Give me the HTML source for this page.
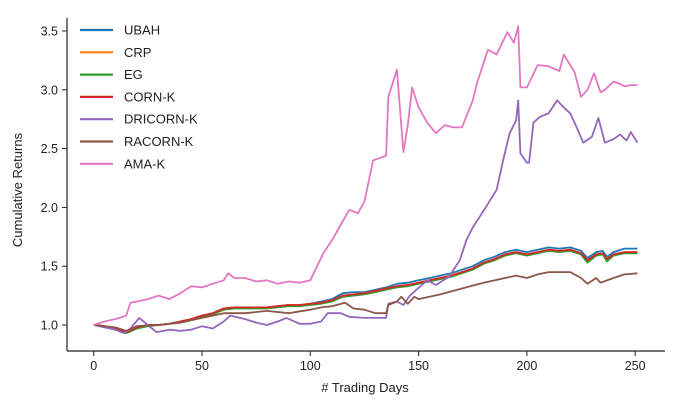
<!DOCTYPE html>
<html><head><meta charset="utf-8"><style>
body{margin:0;background:#fff}
svg{display:block;font-family:"Liberation Sans","DejaVu Sans",sans-serif}
</style></head><body>
<svg id="chart" width="676" height="408">
<g id="axes"></g>
<g id="series"></g>
<g id="legend"></g>
<text x="365" y="392" text-anchor="middle" font-size="13" fill="#222"># Trading Days</text>
<text transform="translate(22,190) rotate(-90)" text-anchor="middle" font-size="13" fill="#222">Cumulative Returns</text>
</svg>
<script>
const xTicks=[0,50,100,150,200,250];
const yTicks=[1.0,1.5,2.0,2.5,3.0,3.5];
const yTickLabels=["1.0","1.5","2.0","2.5","3.0","3.5"];
const seriesNames=["UBAH","CRP","EG","CORN-K","DRICORN-K","RACORN-K","AMA-K"];
const seriesColors=["#1f77b4","#ff7f0e","#2ca02c","#d62728","#9467bd","#8c564b","#e377c2"];
const baseDays=[0,5,10,15,20,25,30,35,40,45,50,55,60,65,70,75,80,85,90,95,100,105,110,115,120,125,130,135,140,145,150,155,160,165,170,175,180,185,190,195,200,205,210,215,220,225,228,232,235,237,240,245,251];
const ubahVals=[1.0,0.99,0.97,0.94,0.98,1.0,1.0,1.01,1.03,1.05,1.08,1.1,1.14,1.15,1.15,1.15,1.15,1.16,1.17,1.17,1.18,1.2,1.22,1.27,1.28,1.28,1.3,1.32,1.35,1.36,1.38,1.4,1.42,1.44,1.47,1.5,1.55,1.58,1.62,1.64,1.62,1.64,1.66,1.65,1.66,1.63,1.57,1.62,1.63,1.58,1.62,1.65,1.65];
const crpVals=[1.0,0.99,0.97,0.94,0.98,1.0,1.0,1.01,1.03,1.05,1.08,1.1,1.14,1.15,1.15,1.15,1.15,1.16,1.17,1.17,1.18,1.19,1.21,1.25,1.26,1.27,1.29,1.31,1.33,1.34,1.36,1.38,1.40,1.42,1.45,1.48,1.53,1.56,1.6,1.62,1.6,1.62,1.64,1.63,1.64,1.61,1.55,1.6,1.61,1.56,1.6,1.62,1.62];
const egVals=[1.0,0.99,0.97,0.93,0.97,0.99,1.0,1.01,1.02,1.04,1.07,1.09,1.13,1.14,1.14,1.14,1.14,1.15,1.16,1.16,1.17,1.18,1.2,1.24,1.25,1.26,1.28,1.3,1.32,1.33,1.35,1.37,1.39,1.41,1.44,1.47,1.52,1.55,1.59,1.61,1.59,1.61,1.63,1.62,1.63,1.6,1.53,1.59,1.6,1.54,1.59,1.61,1.61];
const cornVals=[1.0,0.99,0.97,0.94,0.98,1.0,1.0,1.01,1.03,1.05,1.08,1.1,1.14,1.15,1.15,1.15,1.15,1.16,1.17,1.17,1.18,1.19,1.21,1.25,1.26,1.27,1.29,1.31,1.33,1.34,1.36,1.38,1.40,1.42,1.45,1.48,1.53,1.56,1.6,1.62,1.6,1.62,1.64,1.63,1.64,1.61,1.55,1.6,1.61,1.56,1.6,1.62,1.62];
const racornDays=[0,5,10,15,20,30,40,50,60,70,80,90,100,105,110,116,120,125,130,135,136,140,142,145,148,150,160,170,180,190,195,200,205,210,220,225,228,232,234,240,245,251];
const racornVals=[1.0,0.99,0.98,0.95,0.99,1.0,1.02,1.06,1.1,1.1,1.12,1.1,1.13,1.15,1.16,1.19,1.14,1.13,1.1,1.1,1.17,1.2,1.24,1.18,1.24,1.22,1.26,1.31,1.36,1.4,1.42,1.4,1.43,1.45,1.45,1.4,1.35,1.4,1.36,1.4,1.43,1.44];
const dricornDays=[0,5,10,14,17,21,25,29,35,40,45,50,55,60,63,70,75,80,85,89,95,100,105,108,114,118,125,130,135,136,140,143,146,149,154,158,164,169,172,175,181,186,189,192,195,196,197,200,201,203,206,210,214,217,220,223,226,230,233,236,240,243,246,248,251];
const dricornVals=[1.0,0.98,0.96,0.93,0.97,1.06,1.0,0.94,0.96,0.95,0.96,0.99,0.97,1.03,1.08,1.05,1.02,1.0,1.03,1.06,1.01,1.01,1.03,1.1,1.1,1.07,1.06,1.06,1.06,1.18,1.2,1.17,1.25,1.3,1.38,1.34,1.41,1.55,1.72,1.83,2.0,2.15,2.4,2.63,2.74,2.91,2.46,2.38,2.38,2.72,2.77,2.8,2.91,2.85,2.8,2.68,2.55,2.6,2.76,2.55,2.58,2.62,2.57,2.64,2.55];
const amaDays=[0,5,10,15,17,20,25,30,35,40,45,50,55,60,62,65,70,75,80,85,90,95,100,106,110,114,118,122,125,129,135,136,140,143,145,147,150,154,158,162,166,170,175,177,182,186,191,194,196,197,200,205,210,215,217,222,225,228,231,234,236,240,243,245,248,251];
const amaVals=[1.0,1.03,1.05,1.08,1.19,1.2,1.22,1.25,1.22,1.27,1.33,1.32,1.35,1.38,1.44,1.40,1.40,1.37,1.38,1.35,1.37,1.36,1.38,1.61,1.72,1.85,1.98,1.95,2.05,2.4,2.44,2.94,3.17,2.47,2.7,3.02,2.85,2.72,2.63,2.7,2.68,2.68,2.91,3.06,3.34,3.3,3.49,3.4,3.54,3.02,3.02,3.21,3.2,3.16,3.3,3.15,2.94,3.0,3.14,2.98,3.0,3.07,3.05,3.03,3.04,3.04];
const seriesDays=[baseDays,baseDays,baseDays,baseDays,dricornDays,racornDays,amaDays];
const seriesVals=[ubahVals,crpVals,egVals,cornVals,dricornVals,racornVals,amaVals];

const NS="http://www.w3.org/2000/svg";
function xS(d){return 93.7+2.166*d;}
function yS(v){return 325-(v-1)*117.6;}
function mk(tag,attrs,parent){const e=document.createElementNS(NS,tag);for(const k in attrs)e.setAttribute(k,attrs[k]);parent.appendChild(e);return e;}
const axes=document.getElementById('axes');
let l=mk('line',{x1:67,y1:18,x2:67,y2:351,stroke:'#222','stroke-width':1.2},axes);


l=mk('line',{x1:67,y1:351,x2:665,y2:351,stroke:'#222','stroke-width':1.2},axes);


xTicks.forEach(t=>{
  const tk=mk('line',{x1:xS(t),y1:351,x2:xS(t),y2:356,stroke:'#222','stroke-width':1},axes);
  
  
  const tx=mk('text',{x:xS(t),y:370,'text-anchor':'middle','font-size':12.5,fill:'#222'},axes);
  tx.textContent=t;
  
  
});
yTicks.forEach((t,i)=>{
  const tk=mk('line',{x1:62,y1:yS(t),x2:67,y2:yS(t),stroke:'#222','stroke-width':1},axes);
  
  
  const tx=mk('text',{x:58,y:yS(t)+4.5,'text-anchor':'end','font-size':12.5,fill:'#222'},axes);
  tx.textContent=yTickLabels[i];
  
  
});
const sg=document.getElementById('series');
seriesNames.forEach((n,i)=>{
  const pts=seriesDays[i].map((d,j)=>xS(d).toFixed(1)+','+yS(seriesVals[i][j]).toFixed(1)).join(' ');
  const p=mk('polyline',{points:pts,fill:'none',stroke:seriesColors[i],'stroke-width':1.8,'stroke-linejoin':'round'},sg);
  
  
});
const lg=document.getElementById('legend');
seriesNames.forEach((n,i)=>{
  const y=30+i*22.3;
  const g=mk('g',{},lg);
  
  
  mk('line',{x1:80,y1:y,x2:113,y2:y,stroke:seriesColors[i],'stroke-width':2.2},g);
  const t=mk('text',{x:124,y:y+4.5,'font-size':13,fill:'#222'},g);
  t.textContent=n;
});
</script>
</body></html>
